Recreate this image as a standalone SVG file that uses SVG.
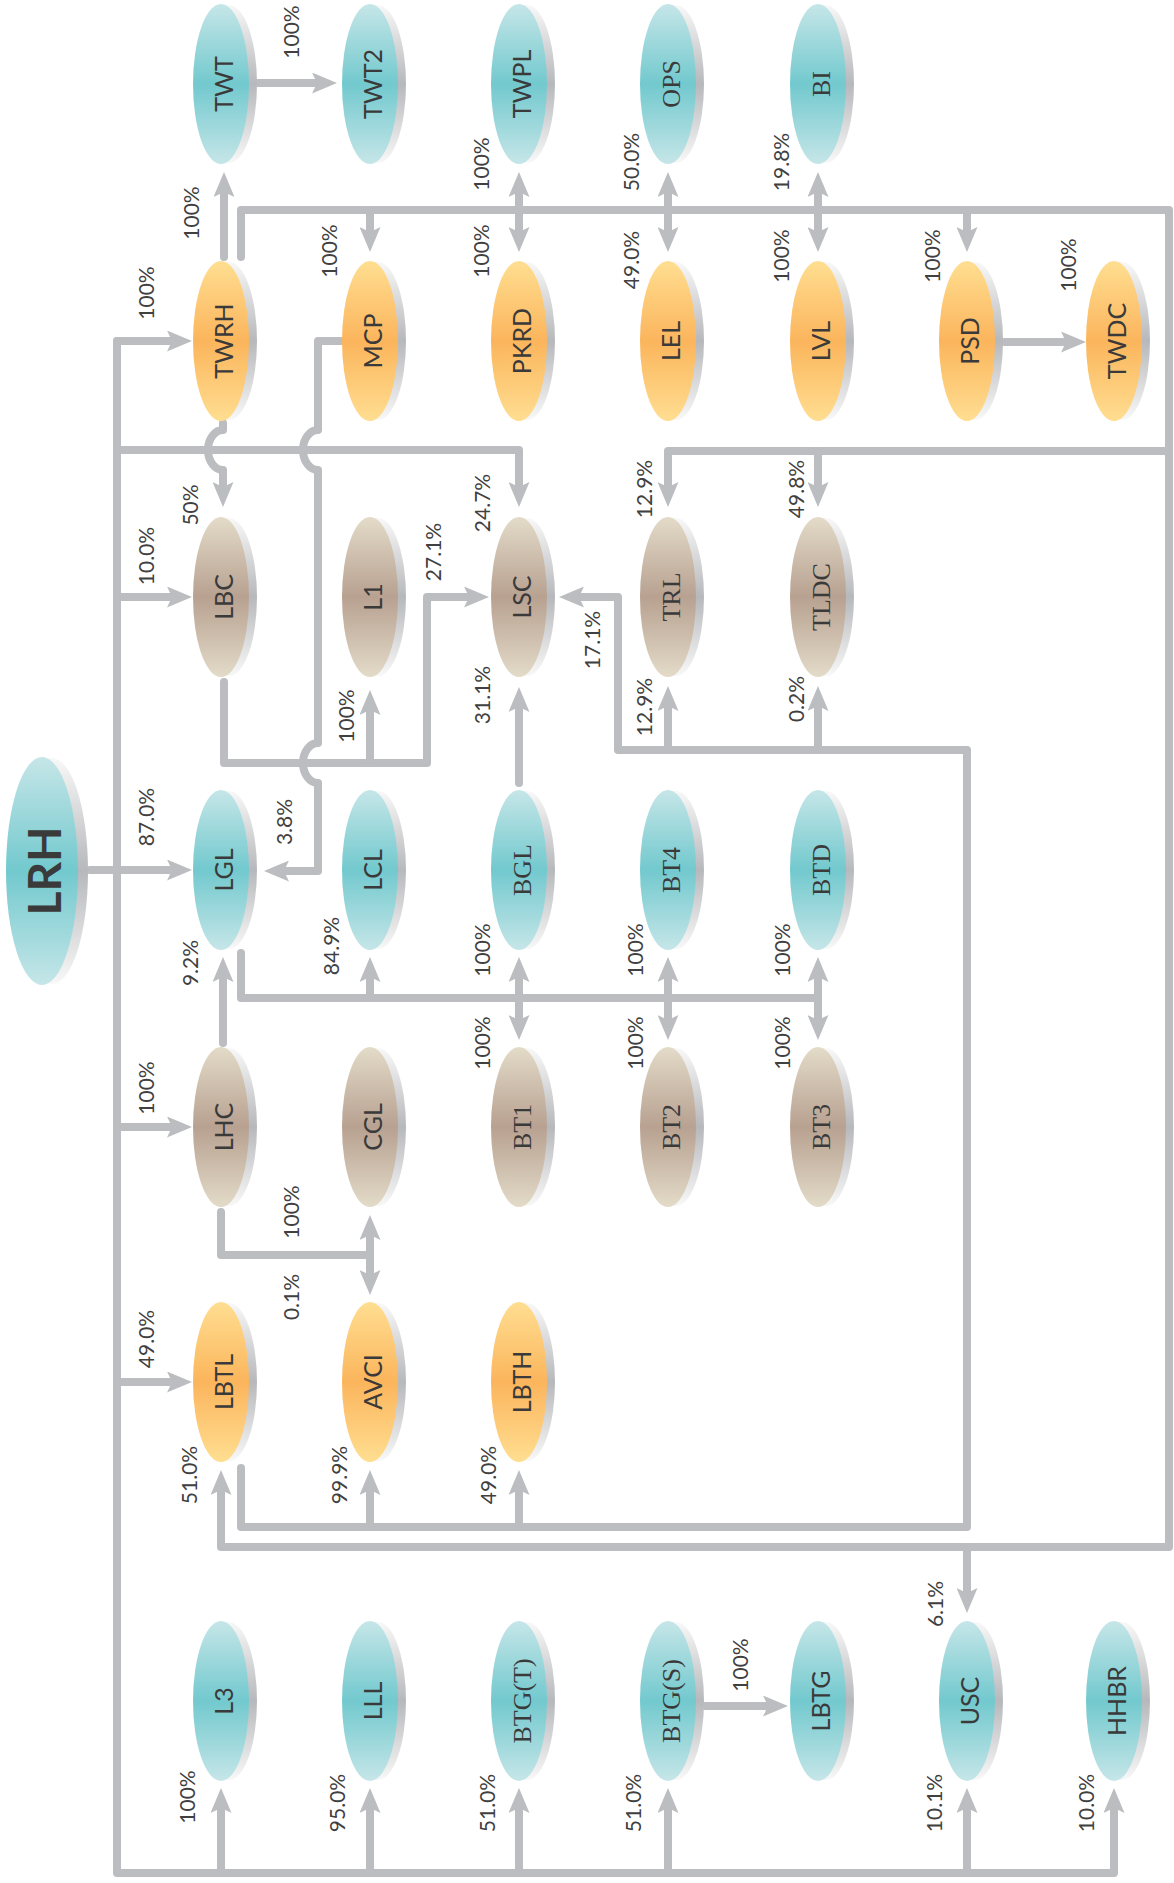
<svg xmlns="http://www.w3.org/2000/svg" width="1174" height="1883" viewBox="0 0 1174 1883">
<style>
.c{fill:none;stroke:#bcbdc0;stroke-width:8;stroke-linecap:round;stroke-linejoin:round}
.a{marker-end:url(#ah)}
.d{marker-start:url(#ah);marker-end:url(#ah)}
.sh{fill:url(#gs)}
.teal{fill:url(#gt)}
.orng{fill:url(#go)}
.brwn{fill:url(#gb)}
.nl{font-family:Lato,"Open Sans","DejaVu Sans",sans-serif;font-size:25px;fill:#3a3a3a;text-anchor:middle}
.ns{font-family:"Liberation Serif","DejaVu Serif",serif;font-size:26px;fill:#3a3a3a;text-anchor:middle}
.pl{font-family:Lato,"Open Sans","DejaVu Sans",sans-serif;font-size:21px;fill:#404040;text-anchor:middle}
.big{font-family:Lato,"Open Sans","DejaVu Sans",sans-serif;font-size:46px;font-weight:bold;fill:#3a3a3a;text-anchor:middle}
</style>
<defs>
<linearGradient id="gt" x1="0" y1="0" x2="0" y2="1"><stop offset="0" stop-color="#c6e6e8"/><stop offset="0.5" stop-color="#72c9ce"/><stop offset="1" stop-color="#c6e6e8"/></linearGradient>
<linearGradient id="go" x1="0" y1="0" x2="0" y2="1"><stop offset="0" stop-color="#ffde91"/><stop offset="0.5" stop-color="#fbb55c"/><stop offset="1" stop-color="#ffde91"/></linearGradient>
<linearGradient id="gb" x1="0" y1="0" x2="0" y2="1"><stop offset="0" stop-color="#e3dbc8"/><stop offset="0.5" stop-color="#b8a191"/><stop offset="1" stop-color="#e3dbc8"/></linearGradient>
<linearGradient id="gs" x1="0" y1="0" x2="0" y2="1"><stop offset="0" stop-color="#f8f8f8"/><stop offset="0.5" stop-color="#b7b8bb"/><stop offset="1" stop-color="#f8f8f8"/></linearGradient>
<marker id="ah" viewBox="0 0 25 21" refX="10" refY="10.5" markerWidth="25" markerHeight="21" markerUnits="userSpaceOnUse" orient="auto-start-reverse"><path d="M0,0 L25,10.5 L0,21 L5,10.5 Z" fill="#bcbdc0"/></marker>
</defs>
<rect width="1174" height="1883" fill="#ffffff"/>

<g id="connectors">
<path class="c a" d="M258 83 H322"/>
<path class="c a" d="M224 257 V187"/>
<path class="c a" d="M241 257 V210 H1169 V1547 H221 V1485"/>
<path class="c a" d="M370 210 V237"/>
<path class="c a" d="M967 210 V237"/>
<path class="c a" d="M1169 451 H668 V492"/>
<path class="c a" d="M818 451 V492"/>
<path class="c a" d="M967 1547 V1598"/>
<path class="c d" d="M519 187 V237"/>
<path class="c d" d="M668 187 V237"/>
<path class="c d" d="M818 187 V237"/>
<path class="c a" d="M1004 342 H1071"/>
<path class="c a" d="M117 341 H177"/>
<path class="c a" d="M117 341 V1873 H1114 V1803"/>
<path class="c a" d="M90 870 H177"/>
<path class="c a" d="M117 597 H177"/>
<path class="c a" d="M117 1127 H177"/>
<path class="c a" d="M117 1382 H177"/>
<path class="c a" d="M117 450 H519 V492"/>
<path class="c a" d="M221 1873 V1803"/>
<path class="c a" d="M370 1873 V1803"/>
<path class="c a" d="M519 1873 V1803"/>
<path class="c a" d="M668 1873 V1803"/>
<path class="c a" d="M967 1873 V1803"/>
<path class="c a" d="M223 423 V430 A15 20 0 0 0 223 470 V492"/>
<path class="c a" d="M344 341 H318 V430 A15 20 0 0 0 318 470 V743 A15 20 0 0 0 318 783 V871 H279"/>
<path class="c a" d="M224 682 V763 H427 V597 H474"/>
<path class="c a" d="M370 763 V705"/>
<path class="c a" d="M519 783 V702"/>
<path class="c a" d="M241 1468 V1527 H967 V750 H618 V597 H574"/>
<path class="c a" d="M370 1527 V1485"/>
<path class="c a" d="M519 1527 V1485"/>
<path class="c a" d="M668 750 V701"/>
<path class="c a" d="M818 750 V701"/>
<path class="c" d="M241 953 V998 H818"/>
<path class="c a" d="M370 998 V972"/>
<path class="c d" d="M519 972 V1025"/>
<path class="c d" d="M668 972 V1025"/>
<path class="c d" d="M818 972 V1025"/>
<path class="c a" d="M223 1043 V972"/>
<path class="c" d="M221 1212 V1255 H370"/>
<path class="c d" d="M370 1230 V1280"/>
<path class="c a" d="M705 1706 H773"/>
</g>

<g id="labels">
<text class="pl" transform="translate(292,32) rotate(-90)" y="7">100%</text>
<text class="pl" transform="translate(192,213) rotate(-90)" y="7">100%</text>
<text class="pl" transform="translate(147,293) rotate(-90)" y="7">100%</text>
<text class="pl" transform="translate(330,251) rotate(-90)" y="7">100%</text>
<text class="pl" transform="translate(482,164) rotate(-90)" y="7">100%</text>
<text class="pl" transform="translate(482,251) rotate(-90)" y="7">100%</text>
<text class="pl" transform="translate(632,162) rotate(-90)" y="7">50.0%</text>
<text class="pl" transform="translate(632,260) rotate(-90)" y="7">49.0%</text>
<text class="pl" transform="translate(782,162) rotate(-90)" y="7">19.8%</text>
<text class="pl" transform="translate(782,256) rotate(-90)" y="7">100%</text>
<text class="pl" transform="translate(933,256) rotate(-90)" y="7">100%</text>
<text class="pl" transform="translate(1069,265) rotate(-90)" y="7">100%</text>
<text class="pl" transform="translate(191,505) rotate(-90)" y="7">50%</text>
<text class="pl" transform="translate(147,556) rotate(-90)" y="7">10.0%</text>
<text class="pl" transform="translate(483,503) rotate(-90)" y="7">24.7%</text>
<text class="pl" transform="translate(434,552) rotate(-90)" y="7">27.1%</text>
<text class="pl" transform="translate(593,640) rotate(-90)" y="7">17.1%</text>
<text class="pl" transform="translate(645,489) rotate(-90)" y="7">12.9%</text>
<text class="pl" transform="translate(797,489) rotate(-90)" y="7">49.8%</text>
<text class="pl" transform="translate(347,716) rotate(-90)" y="7">100%</text>
<text class="pl" transform="translate(483,695) rotate(-90)" y="7">31.1%</text>
<text class="pl" transform="translate(645,707) rotate(-90)" y="7">12.9%</text>
<text class="pl" transform="translate(797,699) rotate(-90)" y="7">0.2%</text>
<text class="pl" transform="translate(147,817) rotate(-90)" y="7">87.0%</text>
<text class="pl" transform="translate(285,822) rotate(-90)" y="7">3.8%</text>
<text class="pl" transform="translate(191,963) rotate(-90)" y="7">9.2%</text>
<text class="pl" transform="translate(332,946) rotate(-90)" y="7">84.9%</text>
<text class="pl" transform="translate(483,950) rotate(-90)" y="7">100%</text>
<text class="pl" transform="translate(636,950) rotate(-90)" y="7">100%</text>
<text class="pl" transform="translate(783,950) rotate(-90)" y="7">100%</text>
<text class="pl" transform="translate(483,1043) rotate(-90)" y="7">100%</text>
<text class="pl" transform="translate(636,1043) rotate(-90)" y="7">100%</text>
<text class="pl" transform="translate(783,1043) rotate(-90)" y="7">100%</text>
<text class="pl" transform="translate(147,1088) rotate(-90)" y="7">100%</text>
<text class="pl" transform="translate(292,1212) rotate(-90)" y="7">100%</text>
<text class="pl" transform="translate(292,1297) rotate(-90)" y="7">0.1%</text>
<text class="pl" transform="translate(147,1339) rotate(-90)" y="7">49.0%</text>
<text class="pl" transform="translate(190,1475) rotate(-90)" y="7">51.0%</text>
<text class="pl" transform="translate(340,1475) rotate(-90)" y="7">99.9%</text>
<text class="pl" transform="translate(489,1475) rotate(-90)" y="7">49.0%</text>
<text class="pl" transform="translate(936,1604) rotate(-90)" y="7">6.1%</text>
<text class="pl" transform="translate(741,1665) rotate(-90)" y="7">100%</text>
<text class="pl" transform="translate(188,1797) rotate(-90)" y="7">100%</text>
<text class="pl" transform="translate(338,1803) rotate(-90)" y="7">95.0%</text>
<text class="pl" transform="translate(488,1803) rotate(-90)" y="7">51.0%</text>
<text class="pl" transform="translate(634,1803) rotate(-90)" y="7">51.0%</text>
<text class="pl" transform="translate(935,1803) rotate(-90)" y="7">10.1%</text>
<text class="pl" transform="translate(1087,1803) rotate(-90)" y="7">10.0%</text>
</g>

<g id="LRH"><ellipse class="sh" cx="52" cy="871" rx="36" ry="113"/><ellipse class="teal" cx="42" cy="871" rx="36" ry="114"/><text class="big" transform="translate(44,871) rotate(-90)" y="17">LRH</text></g>

<g id="TWT"><ellipse class="sh" cx="229" cy="84" rx="28" ry="79"/><ellipse class="teal" cx="221" cy="84" rx="28" ry="80"/><text class="nl" transform="translate(224,84) rotate(-90)" y="9">TWT</text></g>
<g id="TWT2"><ellipse class="sh" cx="378" cy="84" rx="28" ry="79"/><ellipse class="teal" cx="370" cy="84" rx="28" ry="80"/><text class="nl" transform="translate(373,84) rotate(-90)" y="9">TWT2</text></g>
<g id="TWPL"><ellipse class="sh" cx="527" cy="84" rx="28" ry="79"/><ellipse class="teal" cx="519" cy="84" rx="28" ry="80"/><text class="nl" transform="translate(522,84) rotate(-90)" y="9">TWPL</text></g>
<g id="OPS"><ellipse class="sh" cx="676" cy="84" rx="28" ry="79"/><ellipse class="teal" cx="668" cy="84" rx="28" ry="80"/><text class="ns" transform="translate(671,84) rotate(-90)" y="9">OPS</text></g>
<g id="BI"><ellipse class="sh" cx="826" cy="84" rx="28" ry="79"/><ellipse class="teal" cx="818" cy="84" rx="28" ry="80"/><text class="ns" transform="translate(821,84) rotate(-90)" y="9">BI</text></g>

<g id="TWRH"><ellipse class="sh" cx="229" cy="341" rx="28" ry="79"/><ellipse class="orng" cx="221" cy="341" rx="28" ry="80"/><text class="nl" transform="translate(224,341) rotate(-90)" y="9">TWRH</text></g>
<g id="MCP"><ellipse class="sh" cx="378" cy="341" rx="28" ry="79"/><ellipse class="orng" cx="370" cy="341" rx="28" ry="80"/><text class="nl" transform="translate(373,341) rotate(-90)" y="9">MCP</text></g>
<g id="PKRD"><ellipse class="sh" cx="527" cy="341" rx="28" ry="79"/><ellipse class="orng" cx="519" cy="341" rx="28" ry="80"/><text class="nl" transform="translate(522,341) rotate(-90)" y="9">PKRD</text></g>
<g id="LEL"><ellipse class="sh" cx="676" cy="341" rx="28" ry="79"/><ellipse class="orng" cx="668" cy="341" rx="28" ry="80"/><text class="nl" transform="translate(671,341) rotate(-90)" y="9">LEL</text></g>
<g id="LVL"><ellipse class="sh" cx="826" cy="341" rx="28" ry="79"/><ellipse class="orng" cx="818" cy="341" rx="28" ry="80"/><text class="nl" transform="translate(821,341) rotate(-90)" y="9">LVL</text></g>
<g id="PSD"><ellipse class="sh" cx="975" cy="341" rx="28" ry="79"/><ellipse class="orng" cx="967" cy="341" rx="28" ry="80"/><text class="nl" transform="translate(970,341) rotate(-90)" y="9">PSD</text></g>
<g id="TWDC"><ellipse class="sh" cx="1122" cy="341" rx="28" ry="79"/><ellipse class="orng" cx="1114" cy="341" rx="28" ry="80"/><text class="nl" transform="translate(1117,341) rotate(-90)" y="9">TWDC</text></g>

<g id="LBC"><ellipse class="sh" cx="229" cy="597" rx="28" ry="79"/><ellipse class="brwn" cx="221" cy="597" rx="28" ry="80"/><text class="nl" transform="translate(224,597) rotate(-90)" y="9">LBC</text></g>
<g id="L1"><ellipse class="sh" cx="378" cy="597" rx="28" ry="79"/><ellipse class="brwn" cx="370" cy="597" rx="28" ry="80"/><text class="nl" transform="translate(373,597) rotate(-90)" y="9">L1</text></g>
<g id="LSC"><ellipse class="sh" cx="527" cy="597" rx="28" ry="79"/><ellipse class="brwn" cx="519" cy="597" rx="28" ry="80"/><text class="nl" transform="translate(522,597) rotate(-90)" y="9">LSC</text></g>
<g id="TRL"><ellipse class="sh" cx="676" cy="597" rx="28" ry="79"/><ellipse class="brwn" cx="668" cy="597" rx="28" ry="80"/><text class="ns" transform="translate(671,597) rotate(-90)" y="9">TRL</text></g>
<g id="TLDC"><ellipse class="sh" cx="826" cy="597" rx="28" ry="79"/><ellipse class="brwn" cx="818" cy="597" rx="28" ry="80"/><text class="ns" transform="translate(821,597) rotate(-90)" y="9">TLDC</text></g>

<g id="LGL"><ellipse class="sh" cx="229" cy="870" rx="28" ry="79"/><ellipse class="teal" cx="221" cy="870" rx="28" ry="80"/><text class="nl" transform="translate(224,870) rotate(-90)" y="9">LGL</text></g>
<g id="LCL"><ellipse class="sh" cx="378" cy="870" rx="28" ry="79"/><ellipse class="teal" cx="370" cy="870" rx="28" ry="80"/><text class="nl" transform="translate(373,870) rotate(-90)" y="9">LCL</text></g>
<g id="BGL"><ellipse class="sh" cx="527" cy="870" rx="28" ry="79"/><ellipse class="teal" cx="519" cy="870" rx="28" ry="80"/><text class="ns" transform="translate(522,870) rotate(-90)" y="9">BGL</text></g>
<g id="BT4"><ellipse class="sh" cx="676" cy="870" rx="28" ry="79"/><ellipse class="teal" cx="668" cy="870" rx="28" ry="80"/><text class="ns" transform="translate(671,870) rotate(-90)" y="9">BT4</text></g>
<g id="BTD"><ellipse class="sh" cx="826" cy="870" rx="28" ry="79"/><ellipse class="teal" cx="818" cy="870" rx="28" ry="80"/><text class="ns" transform="translate(821,870) rotate(-90)" y="9">BTD</text></g>

<g id="LHC"><ellipse class="sh" cx="229" cy="1127" rx="28" ry="79"/><ellipse class="brwn" cx="221" cy="1127" rx="28" ry="80"/><text class="nl" transform="translate(224,1127) rotate(-90)" y="9">LHC</text></g>
<g id="CGL"><ellipse class="sh" cx="378" cy="1127" rx="28" ry="79"/><ellipse class="brwn" cx="370" cy="1127" rx="28" ry="80"/><text class="nl" transform="translate(373,1127) rotate(-90)" y="9">CGL</text></g>
<g id="BT1"><ellipse class="sh" cx="527" cy="1127" rx="28" ry="79"/><ellipse class="brwn" cx="519" cy="1127" rx="28" ry="80"/><text class="ns" transform="translate(522,1127) rotate(-90)" y="9">BT1</text></g>
<g id="BT2"><ellipse class="sh" cx="676" cy="1127" rx="28" ry="79"/><ellipse class="brwn" cx="668" cy="1127" rx="28" ry="80"/><text class="ns" transform="translate(671,1127) rotate(-90)" y="9">BT2</text></g>
<g id="BT3"><ellipse class="sh" cx="826" cy="1127" rx="28" ry="79"/><ellipse class="brwn" cx="818" cy="1127" rx="28" ry="80"/><text class="ns" transform="translate(821,1127) rotate(-90)" y="9">BT3</text></g>

<g id="LBTL"><ellipse class="sh" cx="229" cy="1382" rx="28" ry="79"/><ellipse class="orng" cx="221" cy="1382" rx="28" ry="80"/><text class="nl" transform="translate(224,1382) rotate(-90)" y="9">LBTL</text></g>
<g id="AVCI"><ellipse class="sh" cx="378" cy="1382" rx="28" ry="79"/><ellipse class="orng" cx="370" cy="1382" rx="28" ry="80"/><text class="nl" transform="translate(373,1382) rotate(-90)" y="9">AVCI</text></g>
<g id="LBTH"><ellipse class="sh" cx="527" cy="1382" rx="28" ry="79"/><ellipse class="orng" cx="519" cy="1382" rx="28" ry="80"/><text class="nl" transform="translate(522,1382) rotate(-90)" y="9">LBTH</text></g>

<g id="L3"><ellipse class="sh" cx="229" cy="1701" rx="28" ry="79"/><ellipse class="teal" cx="221" cy="1701" rx="28" ry="80"/><text class="nl" transform="translate(224,1701) rotate(-90)" y="9">L3</text></g>
<g id="LLL"><ellipse class="sh" cx="378" cy="1701" rx="28" ry="79"/><ellipse class="teal" cx="370" cy="1701" rx="28" ry="80"/><text class="nl" transform="translate(373,1701) rotate(-90)" y="9">LLL</text></g>
<g id="BTG_T"><ellipse class="sh" cx="527" cy="1701" rx="28" ry="79"/><ellipse class="teal" cx="519" cy="1701" rx="28" ry="80"/><text class="ns" transform="translate(522,1701) rotate(-90)" y="9">BTG(T)</text></g>
<g id="BTG_S"><ellipse class="sh" cx="676" cy="1701" rx="28" ry="79"/><ellipse class="teal" cx="668" cy="1701" rx="28" ry="80"/><text class="ns" transform="translate(671,1701) rotate(-90)" y="9">BTG(S)</text></g>
<g id="LBTG"><ellipse class="sh" cx="826" cy="1701" rx="28" ry="79"/><ellipse class="teal" cx="818" cy="1701" rx="28" ry="80"/><text class="nl" transform="translate(821,1701) rotate(-90)" y="9">LBTG</text></g>
<g id="USC"><ellipse class="sh" cx="975" cy="1701" rx="28" ry="79"/><ellipse class="teal" cx="967" cy="1701" rx="28" ry="80"/><text class="nl" transform="translate(970,1701) rotate(-90)" y="9">USC</text></g>
<g id="HHBR"><ellipse class="sh" cx="1122" cy="1701" rx="28" ry="79"/><ellipse class="teal" cx="1114" cy="1701" rx="28" ry="80"/><text class="nl" transform="translate(1117,1701) rotate(-90)" y="9">HHBR</text></g>
</svg>
